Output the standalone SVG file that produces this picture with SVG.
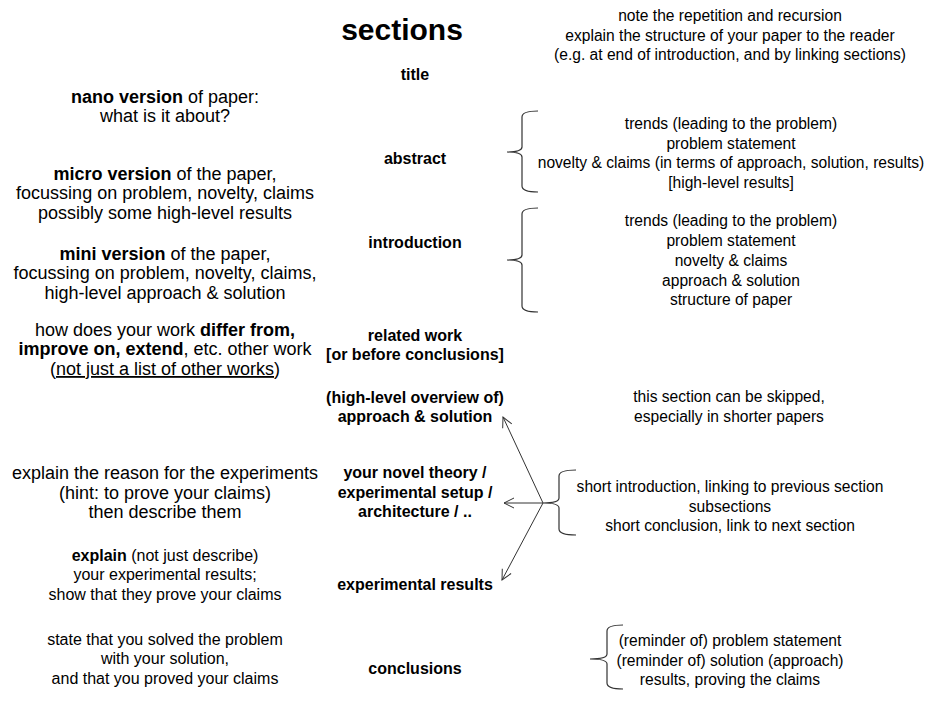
<svg xmlns="http://www.w3.org/2000/svg" width="926" height="702" viewBox="0 0 926 702">
<style>
text{font-family:"Liberation Sans",Arial,sans-serif;font-size:15.6px;fill:#000;text-anchor:middle}
.l{font-size:18px}
.m{font-size:16px}
.b{font-weight:bold}
.c{font-weight:bold;font-size:16px}
.h{font-weight:bold;font-size:30px}
.u{text-decoration:underline}
.br{fill:none;stroke:#333;stroke-width:1.2}
.ar{fill:none;stroke:#333;stroke-width:1}
</style>
<defs>
<marker id="ah" viewBox="0 0 12 12" refX="11" refY="6" markerWidth="12" markerHeight="12" markerUnits="userSpaceOnUse" orient="auto">
<path d="M1 1 L11 6 L1 11" fill="none" stroke="#333" stroke-width="1"/>
</marker>
</defs>
<g id="header">
<text class="h" x="402" y="40">sections</text>
<text x="730" y="21">note the repetition and recursion</text>
<text x="730" y="41">explain the structure of your paper to the reader</text>
<text x="730" y="60">(e.g. at end of introduction, and by linking sections)</text>
</g>
<g id="title">
<text class="c" x="415" y="80">title</text>
<text class="l" x="165" y="103"><tspan class="b">nano version</tspan> of paper:</text>
<text class="l" x="165" y="122">what is it about?</text>
</g>
<g id="abstract">
<text class="c" x="415" y="164">abstract</text>
<text class="l" x="165" y="180"><tspan class="b">micro version</tspan> of the paper,</text>
<text class="l" x="165" y="199">focussing on problem, novelty, claims</text>
<text class="l" x="165" y="219">possibly some high-level results</text>
<text x="731" y="129">trends (leading to the problem)</text>
<text x="731" y="149">problem statement</text>
<text x="731" y="168">novelty &amp; claims (in terms of approach, solution, results)</text>
<text x="731" y="188">[high-level results]</text>
</g>
<g id="introduction">
<text class="c" x="415" y="248">introduction</text>
<text class="l" x="165" y="260"><tspan class="b">mini version</tspan> of the paper,</text>
<text class="l" x="165" y="279">focussing on problem, novelty, claims,</text>
<text class="l" x="165" y="299">high-level approach &amp; solution</text>
<text x="731" y="226">trends (leading to the problem)</text>
<text x="731" y="246">problem statement</text>
<text x="731" y="266">novelty &amp; claims</text>
<text x="731" y="286">approach &amp; solution</text>
<text x="731" y="305">structure of paper</text>
</g>
<g id="related-work">
<text class="c" x="415" y="341">related work</text>
<text class="c" x="415" y="360">[or before conclusions]</text>
<text class="l" x="165" y="336">how does your work <tspan class="b">differ from,</tspan></text>
<text class="l" x="165" y="355"><tspan class="b">improve on, extend</tspan>, etc. other work</text>
<text class="l" x="165" y="375">(<tspan class="u">not just a list of other works</tspan>)</text>
</g>
<g id="overview">
<text class="c" x="415" y="403">(high-level overview of)</text>
<text class="c" x="415" y="422">approach &amp; solution</text>
<text x="729" y="402">this section can be skipped,</text>
<text x="729" y="422">especially in shorter papers</text>
</g>
<g id="theory">
<text class="c" x="415" y="478">your novel theory /</text>
<text class="c" x="415" y="498">experimental setup /</text>
<text class="c" x="415" y="517">architecture / ..</text>
<text class="l" x="165" y="479">explain the reason for the experiments</text>
<text class="l" x="165" y="499">(hint: to prove your claims)</text>
<text class="l" x="165" y="518">then describe them</text>
<text x="730" y="492">short introduction, linking to previous section</text>
<text x="730" y="512">subsections</text>
<text x="730" y="531">short conclusion, link to next section</text>
</g>
<g id="results">
<text class="c" x="415" y="590">experimental results</text>
<text class="m" x="165" y="561"><tspan class="b">explain</tspan> (not just describe)</text>
<text class="m" x="165" y="580">your experimental results;</text>
<text class="m" x="165" y="600">show that they prove your claims</text>
</g>
<g id="conclusions">
<text class="c" x="415" y="674">conclusions</text>
<text class="m" x="165" y="645">state that you solved the problem</text>
<text class="m" x="165" y="664">with your solution,</text>
<text class="m" x="165" y="684">and that you proved your claims</text>
<text x="730" y="646">(reminder of) problem statement</text>
<text x="730" y="666">(reminder of) solution (approach)</text>
<text x="730" y="685">results, proving the claims</text>
</g>
<g id="connectors">
<path class="br" d="M538 111 Q522 111 522 117 L522 147 Q522 152 507 152 Q522 152 522 157 L522 186 Q522 192 538 192"/>
<path class="br" d="M538 208 Q522 208 522 214 L522 255 Q522 260 507 260 Q522 260 522 265 L522 306 Q522 312 538 312"/>
<path class="br" d="M576 470 Q559 470 559 476 L559 498 Q559 503 543 503 Q559 503 559 508 L559 529 Q559 535 576 535"/>
<path class="br" d="M623 625 Q607 625 607 631 L607 654 Q607 659 590 659 Q607 659 607 664 L607 683 Q607 689 623 689"/>
<line class="ar" x1="543" y1="503" x2="503" y2="417" marker-end="url(#ah)"/>
<line class="ar" x1="543" y1="503" x2="504" y2="503" marker-end="url(#ah)"/>
<line class="ar" x1="543" y1="503" x2="502" y2="580" marker-end="url(#ah)"/>
</g>
</svg>
